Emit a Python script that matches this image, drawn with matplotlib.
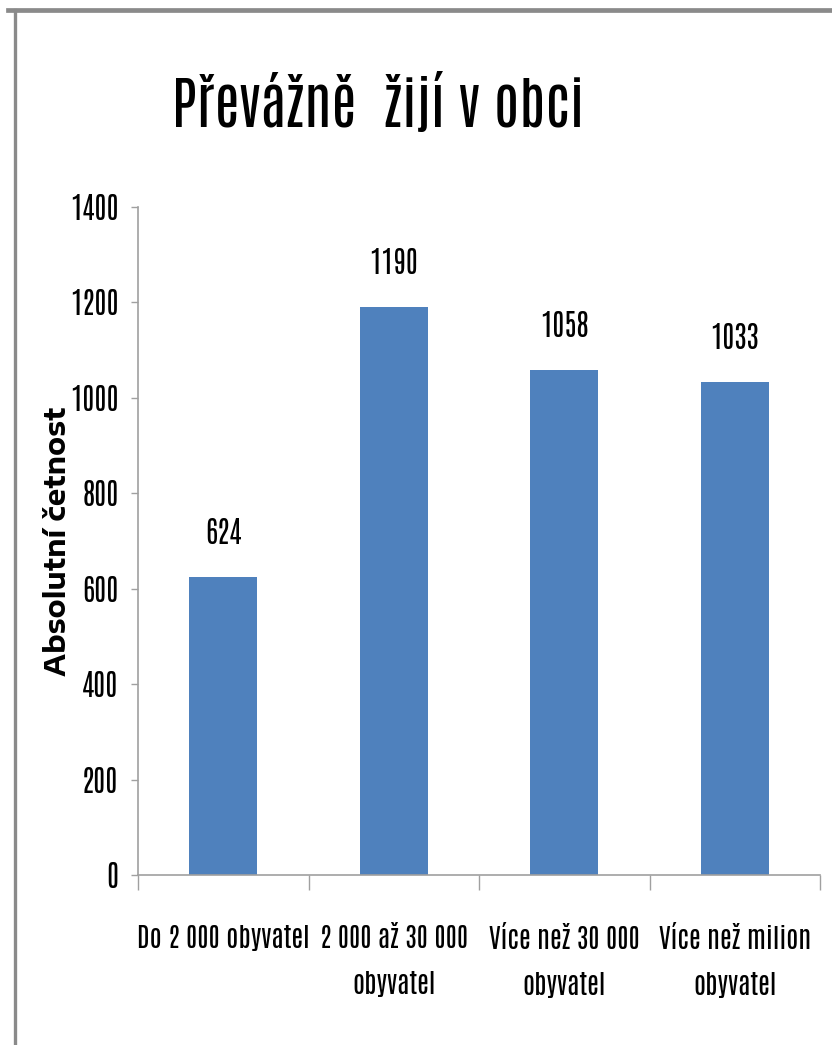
import matplotlib
matplotlib.use("Agg")
import matplotlib.pyplot as plt
from matplotlib.lines import Line2D

# ---------- Data ----------
categories = [
    "Do 2 000 obyvatel",
    "2 000 až 30 000\nobyvatel",
    "Více než 30 000\nobyvatel",
    "Více než milion\nobyvatel",
]
counts = [624, 1190, 1058, 1033]
yticks = [0, 200, 400, 600, 800, 1000, 1200, 1400]

TITLE = "Převážně  žijí v obci"
YLABEL = "Absolutní četnost"

NARROW = ["Antonio", "DejaVu Sans"]
WIDE_BOLD = ["Encode Sans Expanded", "DejaVu Sans"]
BAR_COLOR = "#4F81BD"
AXIS_COLOR = "#A0A0A0"
W, H = 832, 1045

# ---------- Plot ----------
fig = plt.figure(figsize=(W / 100, H / 100), dpi=100)
fig.patch.set_facecolor("white")

# grey frame: only top and left edges fall inside the picture
fig.add_artist(Line2D([8 / W, 1.0], [1 - 9.5 / H] * 2, transform=fig.transFigure,
                      color="#8A8A8A", linewidth=3.4))
fig.add_artist(Line2D([14.5 / W] * 2, [0.0, 1 - 9.5 / H], transform=fig.transFigure,
                      color="#8A8A8A", linewidth=2.4))

ax = fig.add_axes([138 / W, 1 - 875 / H, (820 - 138) / W, (875 - 207) / H])

x = range(len(categories))
ax.bar(x, counts, width=0.4, color=BAR_COLOR, zorder=2)

ax.set_xlim(-0.5, len(categories) - 0.5)
ax.set_ylim(0, 1400)

# value labels above the bars
for xi, v in zip(x, counts):
    ax.annotate(str(v), (xi, v), xytext=(0, 24), textcoords="offset points",
                ha="center", va="baseline", fontsize=21, family=NARROW)

# y axis
ax.set_yticks(yticks)
ax.set_yticklabels([str(t) for t in yticks], fontsize=21, family=NARROW)
ax.tick_params(axis="y", length=5, width=1, color=AXIS_COLOR, pad=9)

# x axis: ticks at category boundaries, labels centred under the bars
ax.set_xticks([i - 0.5 for i in range(len(categories) + 1)])
ax.set_xticklabels([])
ax.set_xticks(list(x), minor=True)
ax.set_xticklabels(categories, minor=True, fontsize=19.5, family=NARROW,
                   linespacing=1.85, va="top")
ax.tick_params(axis="x", which="major", length=11, width=1, color=AXIS_COLOR)
ax.tick_params(axis="x", which="minor", length=0, pad=36)

for side in ["top", "right"]:
    ax.spines[side].set_visible(False)
for side in ["left", "bottom"]:
    ax.spines[side].set_color(AXIS_COLOR)
    ax.spines[side].set_linewidth(1.2)

ax.set_ylabel(YLABEL, fontsize=20, fontweight="bold", family=WIDE_BOLD)
ax.yaxis.set_label_coords((57.5 - 138) / (820 - 138), 0.5)
ax.yaxis.label.set_va("center")

fig.text(377.5 / W, 1 - 127 / H, TITLE, ha="center", va="baseline",
         fontsize=41, fontweight="bold", family=NARROW)

fig.savefig("out.png", dpi=100, facecolor=fig.get_facecolor())
plt.close()
